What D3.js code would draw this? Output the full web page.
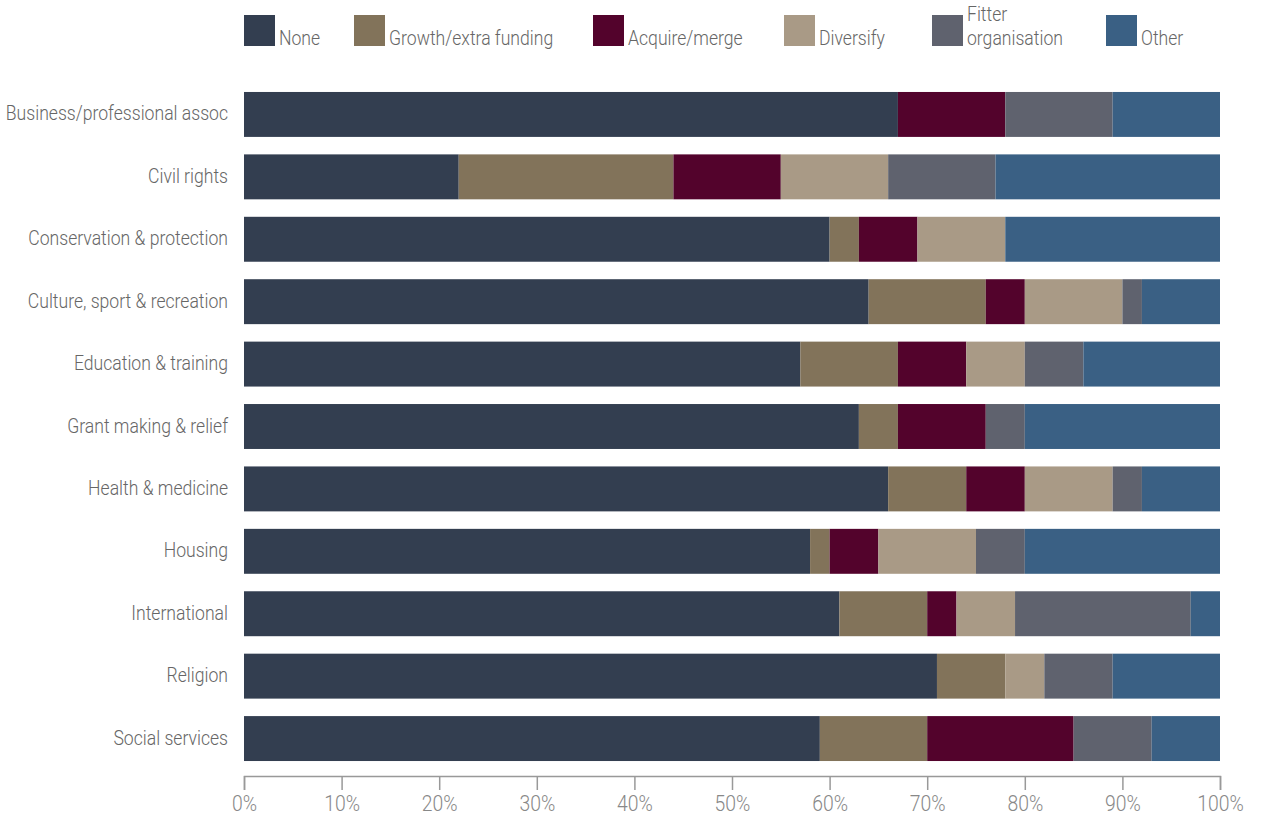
<!DOCTYPE html>
<html>
<head>
<meta charset="utf-8">
<script src="https://cdn.jsdelivr.net/npm/d3@7"></script>
<style>
  html, body { margin: 0; padding: 0; background: #fff; }
  svg text { font-family: Roboto, "Liberation Sans", sans-serif; font-weight: 300; }
</style>
</head>
<body>
<svg id="chart" width="1262" height="817"></svg>
<script>
// Sectors, top to bottom
const categories = [
  "Business/professional assoc",
  "Civil rights",
  "Conservation & protection",
  "Culture, sport & recreation",
  "Education & training",
  "Grant making & relief",
  "Health & medicine",
  "Housing",
  "International",
  "Religion",
  "Social services"
];

// Series names (legend order = stack order)
const seriesNames = ["None", "Growth/extra funding", "Acquire/merge", "Diversify", "Fitter organisation", "Other"];

// Percent of respondents per sector, one array per series
const none        = [67, 22, 60, 64, 57, 63, 66, 58, 61, 71, 59];
const growth      = [ 0, 22,  3, 12, 10,  4,  8,  2,  9,  7, 11];
const acquire     = [11, 11,  6,  4,  7,  9,  6,  5,  3,  0, 15];
const diversify   = [ 0, 11,  9, 10,  6,  0,  9, 10,  6,  4,  0];
const fitter      = [11, 11,  0,  2,  6,  4,  3,  5, 18,  7,  8];
const other       = [11, 23, 22,  8, 14, 20,  8, 20,  3, 11,  7];

const tickValues = [0, 10, 20, 30, 40, 50, 60, 70, 80, 90, 100];

const colors = ["#333e50", "#82735a", "#53032c", "#a99a86", "#5f626e", "#3a6084"];

// Narrow the type horizontally for a condensed look
const squeeze = 0.88;

// Build table rows for d3.stack
const seriesArrays = [none, growth, acquire, diversify, fitter, other];
const rows = categories.map((c, i) => {
  const r = { category: c };
  seriesNames.forEach((s, j) => { r[s] = seriesArrays[j][i]; });
  return r;
});

const svg = d3.select("#chart");

const x = d3.scaleLinear().domain([0, 100]).range([244, 1220]);
const y = d3.scaleBand().domain(categories).range([74.5, 778.5]).paddingInner(0.28).paddingOuter(0.28);
const color = d3.scaleOrdinal().domain(seriesNames).range(colors);

const stacked = d3.stack().keys(seriesNames)(rows);

// Bars
svg.append("g")
  .selectAll("g")
  .data(stacked)
  .join("g")
    .attr("fill", d => color(d.key))
  .selectAll("rect")
  .data(d => d.filter(p => p[1] - p[0] > 0))
  .join("rect")
    .attr("x", d => x(d[0]))
    .attr("y", d => y(d.data.category))
    .attr("width", d => x(d[1]) - x(d[0]))
    .attr("height", y.bandwidth());

// Category labels
svg.append("g")
  .selectAll("text")
  .data(categories)
  .join("text")
    .attr("transform", d => `translate(228,${y(d) + y.bandwidth() / 2}) scale(${squeeze},1)`)
    .attr("dy", "0.3em")
    .attr("text-anchor", "end")
    .attr("fill", "#666")
    .attr("font-size", 20)
    .text(d => d);

// Bottom axis
const axis = svg.append("g")
  .attr("transform", "translate(0,776)")
  .call(d3.axisBottom(x).tickValues(tickValues).tickFormat(d => d + "%").tickSize(14).tickPadding(5));
axis.select(".domain").attr("stroke", "#999").attr("stroke-width", 1.5);
axis.selectAll(".tick line").attr("stroke", "#999").attr("stroke-width", 1.5);
axis.selectAll(".tick text")
  .attr("fill", "#888")
  .attr("font-size", 22)
  .attr("font-family", "Roboto, \"Liberation Sans\", sans-serif")
  .attr("transform", `scale(${squeeze},1)`);

// Legend
const legendX = [244, 354, 593, 784, 932, 1106];
const legend = svg.append("g")
  .selectAll("g")
  .data(seriesNames)
  .join("g")
    .attr("transform", (d, i) => `translate(${legendX[i]},15)`);

legend.append("rect")
  .attr("width", 31)
  .attr("height", 31)
  .attr("fill", d => color(d));

legend.each(function(d) {
  const g = d3.select(this);
  const lines = d === "Fitter organisation" ? ["Fitter", "organisation"] : [d];
  const t = g.append("g")
    .attr("transform", `translate(35,0) scale(${squeeze},1)`)
    .append("text")
    .attr("fill", "#666")
    .attr("font-size", 20);
  lines.forEach((ln, k) => {
    t.append("tspan")
      .attr("x", 0)
      .attr("y", lines.length === 2 ? 6 + k * 24 : 30)
      .text(ln);
  });
});
</script>
</body>
</html>
